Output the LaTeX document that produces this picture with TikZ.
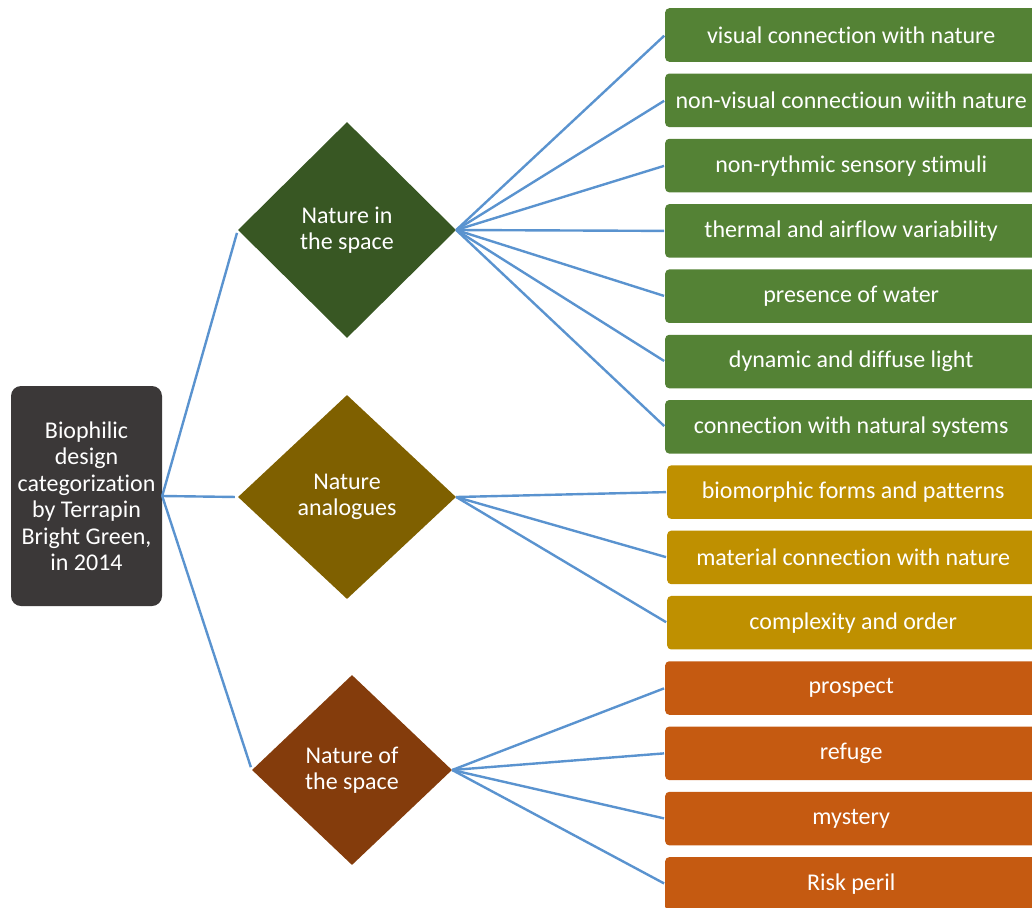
\documentclass[tikz,border=0pt]{standalone}
\usepackage{fontspec}
\setmainfont{Carlito}[Ligatures=NoCommon]
\usetikzlibrary{shapes.geometric}

\definecolor{rootgray}{HTML}{3B3838}
\definecolor{linkblue}{HTML}{5A93CF}
\definecolor{greendark}{HTML}{385723}
\definecolor{greenbox}{HTML}{548235}
\definecolor{golddark}{HTML}{7F6000}
\definecolor{goldbox}{HTML}{BF9000}
\definecolor{rustdark}{HTML}{843C0C}
\definecolor{rustbox}{HTML}{C55A11}

\tikzset{
  txt/.style={text=white, font=\fontsize{24pt}{26.5pt}\selectfont, align=center},
  rootbox/.style={txt, fill=rootgray, rounded corners=10pt, minimum width=151pt,
    minimum height=220pt, inner sep=0pt},
  groupshape/.style={txt, diamond, inner sep=0pt},
  leaf/.style={txt, rounded corners=4pt, minimum width=372pt, minimum height=53.5pt,
    inner sep=0pt, anchor=west},
  leafg/.style={leaf, fill=greenbox},
  leafy/.style={leaf, fill=goldbox},
  leafo/.style={leaf, fill=rustbox},
  link/.style={draw=linkblue, line width=2.4pt}
}

\begin{document}
\begin{tikzpicture}[x=1pt, y=-1pt]
\useasboundingbox (0,0) rectangle (1032,907);
\clip (0,0) rectangle (1032,907);

% root node
\node[rootbox] (root) at (86.5,496) {Biophilic\\design\\categorization\\by Terrapin\\Bright Green,\\in 2014};

% the three groups
\node[groupshape, fill=greendark, minimum width=218pt, minimum height=216pt] (nis) at (347,230) {Nature in\\the space};
\node[groupshape, fill=golddark, minimum width=218pt, minimum height=204pt] (nan) at (347,497) {Nature\\analogues};
\node[groupshape, fill=rustdark, minimum width=200pt, minimum height=190pt] (nos) at (352,770) {Nature of\\the space};

% leaves
\node[leafg] (g1) at (665,35.0)  {visual connection with nature};
\node[leafg] (g2) at (665,100.3) {non-visual connectioun wiith nature};
\node[leafg] (g3) at (665,165.6) {non-rythmic sensory stimuli};
\node[leafg] (g4) at (665,230.9) {thermal and airflow variability};
\node[leafg] (g5) at (665,296.2) {presence of water};
\node[leafg] (g6) at (665,361.5) {dynamic and diffuse light};
\node[leafg] (g7) at (665,426.8) {connection with natural systems};
\node[leafy] (y1) at (667,492.1) {biomorphic forms and patterns};
\node[leafy] (y2) at (667,557.4) {material connection with nature};
\node[leafy] (y3) at (667,622.7) {complexity and order};
\node[leafo] (o1) at (665,688.0) {prospect};
\node[leafo] (o2) at (665,753.3) {refuge};
\node[leafo] (o3) at (665,818.6) {mystery};
\node[leafo] (o4) at (665,883.9) {Risk peril};

% connectors
\foreach \g in {nis,nan,nos}
  \draw[link, shorten >=3pt] (root.east) -- (\g.west);
\foreach \l in {g1,g2,g3,g4,g5,g6,g7}
  \draw[link, shorten >=1pt] (nis.east) -- (\l.west);
\foreach \l in {y1,y2,y3}
  \draw[link, shorten >=1pt] (nan.east) -- (\l.west);
\foreach \l in {o1,o2,o3,o4}
  \draw[link, shorten >=1pt] (nos.east) -- (\l.west);
\end{tikzpicture}
\end{document}
